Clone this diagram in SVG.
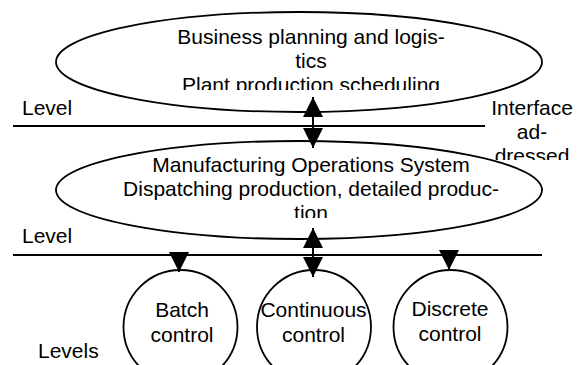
<svg xmlns="http://www.w3.org/2000/svg" width="578" height="365" viewBox="0 0 578 365">
<style>
.shape{fill:#fff;stroke:#000;stroke-width:1.8}
.rule{stroke:#000;stroke-width:2}
.conn{stroke:#000;stroke-width:2;fill:none}
text{font-family:"Liberation Sans",Arial,sans-serif;font-size:21px;fill:#000}
.c{text-anchor:middle}
</style>
<defs>
<marker id="ah" markerUnits="userSpaceOnUse" markerWidth="20" markerHeight="20" viewBox="0 0 20 20" refX="20" refY="10" orient="auto-start-reverse">
<path d="M0,0 L20,10 L0,20 z" fill="#000"/>
</marker>
<clipPath id="clip1"><rect x="0" y="0" width="578" height="90"/></clipPath>
<clipPath id="clip2"><rect x="0" y="130" width="578" height="88"/></clipPath>
<clipPath id="clip3"><rect x="480" y="90" width="98" height="70"/></clipPath>
</defs>

<g id="labels">
<text x="22" y="115">Level</text>
<text x="22" y="243">Level</text>
<text x="38" y="358">Levels</text>
<g clip-path="url(#clip3)">
<text class="c" x="532" y="115">Interface</text>
<text class="c" x="532" y="139">ad-</text>
<text class="c" x="532" y="163">dressed</text>
</g>
</g>

<g id="level-lines">
<line class="rule" x1="13" y1="126" x2="485" y2="126"/>
<line class="rule" x1="13" y1="255" x2="542" y2="255"/>
</g>

<g id="business">
<ellipse class="shape" cx="299" cy="62" rx="243" ry="50"/>
<g clip-path="url(#clip1)">
<text class="c" x="311" y="44">Business planning and logis-</text>
<text class="c" x="311" y="68">tics</text>
<text class="c" x="311" y="92">Plant production scheduling</text>
</g>
</g>

<g id="mos">
<ellipse class="shape" cx="299" cy="190" rx="243" ry="49"/>
<g clip-path="url(#clip2)">
<text class="c" x="311" y="172">Manufacturing Operations System</text>
<text class="c" x="311" y="196">Dispatching production, detailed produc-</text>
<text class="c" x="311" y="220">tion</text>
</g>
</g>

<g id="batch">
<circle class="shape" cx="180.5" cy="327" r="57"/>
<text class="c" x="182" y="317">Batch</text>
<text class="c" x="182" y="342">control</text>
</g>

<g id="continuous">
<circle class="shape" cx="314" cy="327" r="57"/>
<text class="c" x="313.5" y="317">Continuous</text>
<text class="c" x="313.5" y="342">control</text>
</g>

<g id="discrete">
<circle class="shape" cx="450.5" cy="327" r="57"/>
<text class="c" x="450" y="316">Discrete</text>
<text class="c" x="450" y="341">control</text>
</g>

<g id="connectors">
<line class="conn" x1="313" y1="97" x2="313" y2="148" marker-start="url(#ah)" marker-end="url(#ah)"/>
<line class="conn" x1="313" y1="228" x2="313" y2="277" marker-start="url(#ah)" marker-end="url(#ah)"/>
<line class="conn" x1="179" y1="252" x2="179" y2="272" marker-end="url(#ah)"/>
<line class="conn" x1="449" y1="252" x2="449" y2="270" marker-end="url(#ah)"/>
</g>
</svg>
